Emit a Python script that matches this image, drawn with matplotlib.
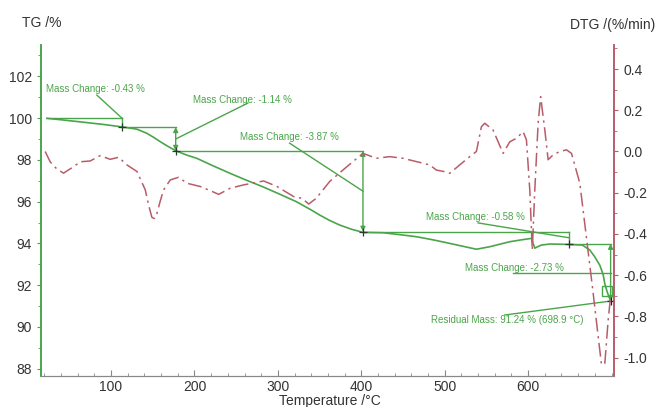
import matplotlib
matplotlib.use("Agg")
import matplotlib.pyplot as plt
from matplotlib.ticker import MultipleLocator

plt.rcParams["font.family"] = ["Liberation Sans", "DejaVu Sans"]

# TG curve (mass %)
tg_temp = [23, 40, 63, 90, 113, 131, 143, 151, 159, 168, 177.5, 190, 203, 222,
           243, 262, 282, 302, 322, 340, 350, 362, 374, 388, 402, 426, 446, 466,
           486, 506, 522, 538, 554, 566, 578, 592, 604, 608, 612, 616, 626, 638,
           649, 665, 674, 680, 686, 690, 692, 695, 698.9]
tg_mass = [99.99, 99.92, 99.82, 99.70, 99.58, 99.47, 99.27, 99.08, 98.87, 98.65,
           98.44, 98.24, 98.07, 97.72, 97.35, 97.03, 96.71, 96.36, 96.00, 95.60,
           95.36, 95.10, 94.88, 94.68, 94.53, 94.51, 94.42, 94.32, 94.17, 94.00,
           93.86, 93.72, 93.84, 93.96, 94.08, 94.17, 94.24, 93.77, 93.85, 93.92,
           93.97, 93.96, 93.95, 93.92, 93.68, 93.35, 92.95, 92.50, 92.05, 91.65,
           91.24]

# DTG curve (%/min)
dtg_temp = [21, 27, 35, 43, 55, 63, 75, 87, 99, 109, 119, 131, 141, 145, 149,
            152, 155, 159, 163, 171, 181, 191, 207, 219, 229, 243, 259, 283, 299,
            319, 329, 337, 346, 362, 378, 390, 402, 418, 434, 450, 466, 482, 490,
            500, 506, 518, 530, 538, 544, 548, 558, 570, 578, 586, 594, 598, 602,
            605, 608, 612, 615, 620, 624, 630, 638, 646, 652, 662, 670, 678, 684,
            688, 692, 696, 699]
dtg_rate = [0.0, -0.05, -0.085, -0.105, -0.074, -0.05, -0.046, -0.02, -0.038,
            -0.028, -0.065, -0.097, -0.186, -0.26, -0.32, -0.325, -0.30, -0.24,
            -0.186, -0.138, -0.125, -0.154, -0.17, -0.19, -0.208, -0.178, -0.162,
            -0.143, -0.17, -0.219, -0.227, -0.255, -0.227, -0.146, -0.09, -0.049,
            -0.009, -0.033, -0.025, -0.033, -0.049, -0.065, -0.09, -0.098, -0.106,
            -0.065, -0.025, 0.0, 0.12, 0.137, 0.104, -0.009, 0.047, 0.064, 0.096,
            0.056, -0.187, -0.478, -0.187, 0.137, 0.266, 0.105, -0.04, -0.016, 0.0,
            0.008, -0.009, -0.154, -0.42, -0.688, -0.898, -1.035, -1.027, -0.816,
            -0.70]

# mass change steps
step_temp = [23, 113, 177.5, 402, 649, 698.9]
step_level = [100.0, 99.57, 98.43, 94.56, 93.98, 91.24]
step_labels = ["Mass Change: -0.43 %", "Mass Change: -1.14 %", "Mass Change: -3.87 %",
               "Mass Change: -0.58 %", "Mass Change: -2.73 %"]
residual_label = "Residual Mass: 91.24 % (698.9 °C)"
x_ticks = [100, 200, 300, 400, 500, 600]

GREEN = "#4aa54a"
RED = "#b95c6a"
TXT = "#333333"

fig = plt.figure(figsize=(6.57, 4.07), dpi=100)
ax = fig.add_axes([0.0624, 0.0762, 0.8722, 0.8132])
ax2 = ax.twinx()

ax.plot(tg_temp, tg_mass, color=GREEN, lw=1.2, zorder=3)
ax2.plot(dtg_temp, dtg_rate, color=RED, lw=1.1, dashes=(9, 3, 1.5, 3))

# step lines
ax.plot([step_temp[0], step_temp[1]], [step_level[0], step_level[0]], color=GREEN, lw=1)
for i in range(1, len(step_temp)):
    t = step_temp[i]
    if i < len(step_temp) - 1:
        ax.plot([t, step_temp[i + 1]], [step_level[i], step_level[i]], color=GREEN, lw=1)
    if i in (1, 4):
        ax.plot([t, t], [step_level[i - 1], step_level[i]], color=GREEN, lw=1)
    else:
        ax.annotate("", xy=(t, step_level[i - 1]), xytext=(t, step_level[i]),
                    arrowprops=dict(arrowstyle="<|-|>", color=GREEN, lw=1,
                                    shrinkA=0, shrinkB=0, mutation_scale=7))
    if i < len(step_temp) - 1:
        ax.plot(t, step_level[i], marker="+", color="#2a3a2a", ms=6, mew=0.9, zorder=5)

ax.plot(695, 91.7, marker="s", ms=7, mfc="none", mec=GREEN, mew=1, zorder=5)
ax.plot(698.9, 91.24, marker="+", color="#222222", ms=6, mew=0.9, zorder=6)

# labels with leader lines
label_pos = [(22, 101.39), (198, 100.86), (254, 99.09), (477, 95.28), (524, 92.81)]
leader_start = [(83, 101.1), (264, 100.72), (314, 98.8), (540, 94.98), (582, 92.6)]
leader_end = [(113, 100.0), (177.5, 99.0), (402, 96.5), (649, 94.27), (698.9, 92.6)]
for lab, pos, s, e in zip(step_labels, label_pos, leader_start, leader_end):
    ax.text(pos[0], pos[1], lab, color=GREEN, fontsize=7, va="center", ha="left")
    ax.plot([s[0], e[0]], [s[1], e[1]], color=GREEN, lw=1)

ax.text(484, 90.33, residual_label, color=GREEN, fontsize=7, va="center", ha="left")
ax.plot([572, 698.9], [90.57, 91.24], color=GREEN, lw=1)

# axes styling
ax.set_xlim(16, 703)
ax.set_ylim(87.65, 103.5)

ax.set_xticks(x_ticks)
ax.xaxis.set_minor_locator(MultipleLocator(20))
ax.yaxis.set_major_locator(MultipleLocator(2))
ax.yaxis.set_minor_locator(MultipleLocator(1))
ax2.yaxis.set_major_locator(MultipleLocator(0.2))
ax2.yaxis.set_minor_locator(MultipleLocator(0.1))
ax2.yaxis.set_major_formatter(lambda v, pos: f"{v:.1f}")
ax2.set_ylim(-1.089, 0.5165)

for a in (ax, ax2):
    a.spines["top"].set_visible(False)
    a.spines["left"].set_color(GREEN)
    a.spines["right"].set_color(RED)
    a.spines["bottom"].set_color("#888888")
    a.spines["left"].set_linewidth(1.2)
    a.spines["right"].set_linewidth(1.2)

ax.tick_params(axis="x", direction="in", length=4, color="#888888", labelsize=10,
               labelcolor=TXT, pad=3)
ax.tick_params(axis="x", which="minor", direction="in", length=2, color="#888888")
ax.tick_params(axis="y", direction="out", length=3, color=GREEN, labelsize=10,
               labelcolor=TXT)
ax.tick_params(axis="y", which="minor", direction="out", length=2, color=GREEN)
ax2.tick_params(axis="y", direction="out", length=3, color=RED, labelsize=10,
                labelcolor=TXT)
ax2.tick_params(axis="y", which="minor", direction="out", length=2, color=RED)

fig.text(22 / 657, 1 - 23 / 407, "TG /%", fontsize=10, color=TXT, va="center", ha="left")
fig.text(655 / 657, 1 - 25 / 407, "DTG /(%/min)", fontsize=10, color=TXT,
         va="center", ha="right")
fig.text(330 / 657, 1 - 401 / 407, "Temperature /°C", fontsize=10, color=TXT,
         va="center", ha="center")

fig.savefig("out.png", dpi=100)
